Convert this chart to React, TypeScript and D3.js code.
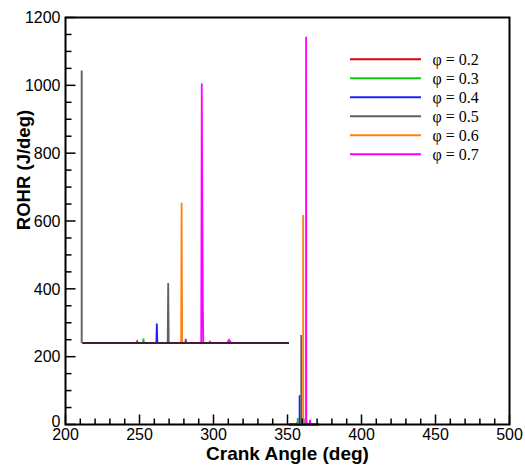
import { useEffect, useRef } from 'react';
import * as d3 from 'd3';

// legend labels and colours, one per equivalence ratio
const seriesLabels = ['φ = 0.2', 'φ = 0.3', 'φ = 0.4', 'φ = 0.5', 'φ = 0.6', 'φ = 0.7'];
const seriesColors = ['#e00000', '#10c810', '#2020ff', '#606060', '#ff8010', '#ff00ff'];

// crank angle (deg) / ROHR (J/deg) samples per series
const angle02 = [351, 356.25, 356.3, 356.35, 371];
const rohr02 = [0, 0, 6, 0, 0];
const angle03 = [351, 356.85, 356.9, 356.95, 371];
const rohr03 = [0, 0, 19, 0, 0];
const angle04 = [351, 358.15, 358.2, 358.25, 371];
const rohr04 = [0, 0, 86, 0, 0];
const angle05 = [351, 359.25, 359.3, 359.35, 360.95, 361.0, 361.05, 371];
const rohr05 = [0, 0, 264, 0, 0, 18, 0, 0];
const angle06 = [351, 360.55, 360.6, 360.65, 371];
const rohr06 = [0, 0, 618, 0, 0];
const angle07 = [351, 362.5, 362.55, 362.65, 362.7, 363.25, 363.35, 363.45, 365.0, 365.2, 365.4, 371];
const rohr07 = [0, 0, 1143, 182, 0, 0, 6, 0, 0, 14, 0, 0];

const angles = [angle02, angle03, angle04, angle05, angle06, angle07];
const rohrs = [rohr02, rohr03, rohr04, rohr05, rohr06, rohr07];

// axis ticks
const xMajor = [200, 250, 300, 350, 400, 450, 500];
const yMajor = [0, 200, 400, 600, 800, 1000, 1200];

const App = () => {
  const ref = useRef<SVGSVGElement>(null);

  useEffect(() => {
    const svg = d3.select(ref.current);
    svg.selectAll('*').remove();

    const width = 525;
    const height = 465;
    const left = 65.5;
    const right = 509.5;
    const top = 17.5;
    const bottom = 424.5;
    const sans = '"Liberation Sans", Arial, sans-serif';

    svg.attr('width', width).attr('height', height);

    const x = d3.scaleLinear().domain([200, 500]).range([left, right]);
    const y = d3.scaleLinear().domain([0, 1200]).range([bottom, top]);

    // zoomed inset frame (same data, close-up of the combustion window)
    const xi = d3.scaleLinear().domain([351, 371]).range([82.5, 289]);
    const yi = d3.scaleLinear().domain([0, 1200]).range([343, 70.6]);

    const series = angles.map((a, i) => a.map((v, j) => [v, rohrs[i][j]] as [number, number]));

    // inset lines
    const lineI = d3.line<[number, number]>().x((d) => xi(d[0])).y((d) => yi(d[1]));
    const gi = svg.append('g');
    series.forEach((s, i) => {
      gi.append('path')
        .attr('d', lineI(s))
        .attr('fill', 'none')
        .attr('stroke', seriesColors[i])
        .attr('stroke-width', 1.8);
    });
    gi.append('line')
      .attr('x1', xi(351)).attr('x2', xi(371))
      .attr('y1', yi(0)).attr('y2', yi(0))
      .attr('stroke', '#4a1838').attr('stroke-width', 2);
    gi.append('line')
      .attr('x1', xi(351) - 0.8).attr('x2', xi(351) - 0.8)
      .attr('y1', yi(0)).attr('y2', yi(1200))
      .attr('stroke', '#666666').attr('stroke-width', 2);

    // main lines
    const line = d3.line<[number, number]>().x((d) => x(d[0])).y((d) => y(d[1]));
    series.forEach((s, i) => {
      svg.append('path')
        .attr('d', line(s))
        .attr('fill', 'none')
        .attr('stroke', seriesColors[i])
        .attr('stroke-width', 1.8);
    });

    // ticks (inward, left and bottom only)
    const ticks = svg.append('g').attr('stroke', '#000').attr('stroke-width', 1.5);
    d3.range(200, 501, 10).forEach((t) => {
      const len = t % 50 === 0 ? 10 : 6;
      ticks.append('line')
        .attr('x1', x(t)).attr('x2', x(t))
        .attr('y1', bottom).attr('y2', bottom - len);
    });
    d3.range(0, 1201, 50).forEach((t) => {
      const len = t % 200 === 0 ? 10 : 6;
      ticks.append('line')
        .attr('x1', left).attr('x2', left + len)
        .attr('y1', y(t)).attr('y2', y(t));
    });

    // frame
    svg.append('rect')
      .attr('x', left).attr('y', top)
      .attr('width', right - left).attr('height', bottom - top)
      .attr('fill', 'none').attr('stroke', '#000').attr('stroke-width', 2);

    // tick labels
    svg.append('g').selectAll('text')
      .data(xMajor)
      .enter()
      .append('text')
      .attr('x', (d) => x(d))
      .attr('y', bottom + 15.5)
      .attr('text-anchor', 'middle')
      .style('font-family', sans)
      .style('font-size', '16px')
      .text((d) => d);

    svg.append('g').selectAll('text')
      .data(yMajor)
      .enter()
      .append('text')
      .attr('x', left - 5)
      .attr('y', (d) => y(d) - (d === 0 ? 3 : 0))
      .attr('dy', '0.36em')
      .attr('text-anchor', 'end')
      .style('font-family', sans)
      .style('font-size', '16px')
      .text((d) => d);

    // axis titles
    svg.append('text')
      .attr('x', (left + right) / 2)
      .attr('y', 459.5)
      .attr('text-anchor', 'middle')
      .style('font-family', sans)
      .style('font-size', '19px')
      .style('font-weight', 'bold')
      .text('Crank Angle (deg)');

    svg.append('text')
      .attr('transform', 'translate(30,170) rotate(-90)')
      .attr('text-anchor', 'middle')
      .style('font-family', sans)
      .style('font-size', '18.5px')
      .style('font-weight', 'bold')
      .text('ROHR (J/deg)');

    // legend
    const lg = svg.append('g');
    seriesLabels.forEach((lab, i) => {
      const ly = 59.3 + i * 19;
      lg.append('line')
        .attr('x1', 350).attr('x2', 421)
        .attr('y1', ly).attr('y2', ly)
        .attr('stroke', seriesColors[i]).attr('stroke-width', 2);
      lg.append('text')
        .attr('x', 432.5)
        .attr('y', ly)
        .attr('dy', '0.35em')
        .style('font-family', '"Liberation Serif", "Times New Roman", serif')
        .style('font-size', '16px')
        .text(lab);
    });
  }, []);

  return <svg ref={ref} style={{ position: 'absolute', left: 0, top: 0 }}></svg>;
};

export default App;
